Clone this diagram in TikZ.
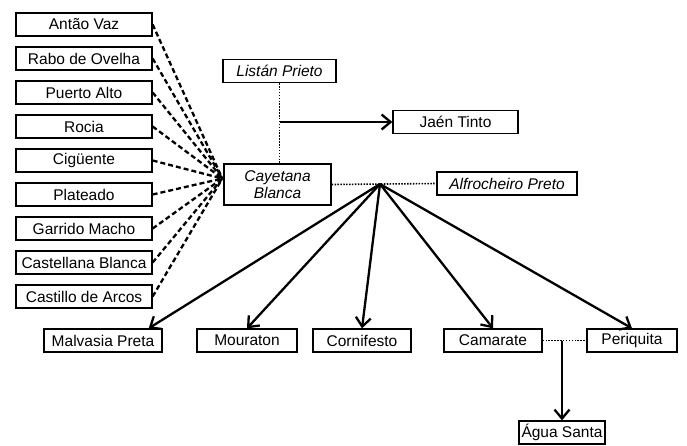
\documentclass[tikz,border=0pt]{standalone}
\usepackage{fontspec}
\setmainfont{Liberation Sans}
\usetikzlibrary{arrows.meta}

\tikzset{
  vine/.style={draw, line width=1.3pt, minimum height=23pt, inner sep=1pt,
    font=\fontsize{15.5}{17}\selectfont},
  pedigree/.style={line width=2.3pt,
    -{Straight Barb[length=9pt,width=15pt,line width=2.3pt]}},
  parent/.style={line width=2.3pt, dash pattern=on 5pt off 3pt},
  cross/.style={line width=1.6pt, dash pattern=on 1.5pt off 1.4pt}
}

\begin{document}
\begin{tikzpicture}[x=1pt, y=-1pt]
    \useasboundingbox (0,0) rectangle (687,445);
    % left column of parents
    \foreach \name/\txt [count=\i from 0] in {antao/Antão Vaz,
        rabo/Rabo de Ovelha, puerto/Puerto Alto, rocia/Rocia,
        cigu/Cigüente, plateado/Plateado, garrido/Garrido Macho,
        castellana/Castellana Blanca, castillo/Castillo de Arcos}{
        \node[vine, minimum width=136pt] (\name) at (84, 24.5+34*\i) {\txt};
    }
    \node[vine, minimum width=113pt, font=\fontsize{15.5}{17}\selectfont\itshape]
        (listan) at (279.5, 71) {Listán Prieto};
    \node[vine, minimum width=125pt] (jaen) at (455.5, 122) {Jaén Tinto};
    \node[vine, minimum width=107pt, minimum height=41pt, align=center,
        font=\fontsize{15.5}{17}\selectfont\itshape]
        (cayetana) at (277.5, 184.5) {Cayetana\\Blanca};
    \node[vine, minimum width=140pt, font=\fontsize{15.5}{17}\selectfont\itshape]
        (alfrocheiro) at (507, 183.5) {Alfrocheiro Preto};
    % offspring row
    \node[vine, minimum width=118pt] (malvasia) at (103, 340.5) {Malvasia Preta};
    \node[vine, minimum width=100pt] (mouraton) at (247, 340.5) {Mouraton};
    \node[vine, minimum width=98pt] (cornifesto) at (362, 340.5) {Cornifesto};
    \node[vine, minimum width=98pt] (camarate) at (493, 340.5) {Camarate};
    \node[vine, minimum width=90pt] (periquita) at (632, 340.5) {Periquita};
    \node[vine, minimum width=86pt] (agua) at (562, 432.5) {Água Santa};

    \coordinate (fan) at ([xshift=-1pt, yshift=6pt]cayetana.west);
    \coordinate (hub) at (380, 184);
    \coordinate (twin) at (562, 340.5);
    \coordinate (split) at (listan.south |- jaen.west);

    \foreach \name in {antao, rabo, puerto, rocia, cigu, plateado,
        garrido, castellana, castillo}{
        \draw[parent] (\name.east) -- (fan);
    }
    \draw[cross] (listan.south) -- (listan.south |- cayetana.north);
    \draw[pedigree] (split) -- (jaen.west);
    \draw[cross] (cayetana.east) -- (alfrocheiro.west);
    \draw[pedigree] (hub) -- ([xshift=-14pt]malvasia.north east);
    \foreach \name in {mouraton, cornifesto, camarate, periquita}{
        \draw[pedigree] (hub) -- (\name.north);
    }
    \draw[cross] (camarate.east) -- (periquita.west);
    \draw[pedigree] (twin) -- (agua.north);
\end{tikzpicture}
\end{document}
